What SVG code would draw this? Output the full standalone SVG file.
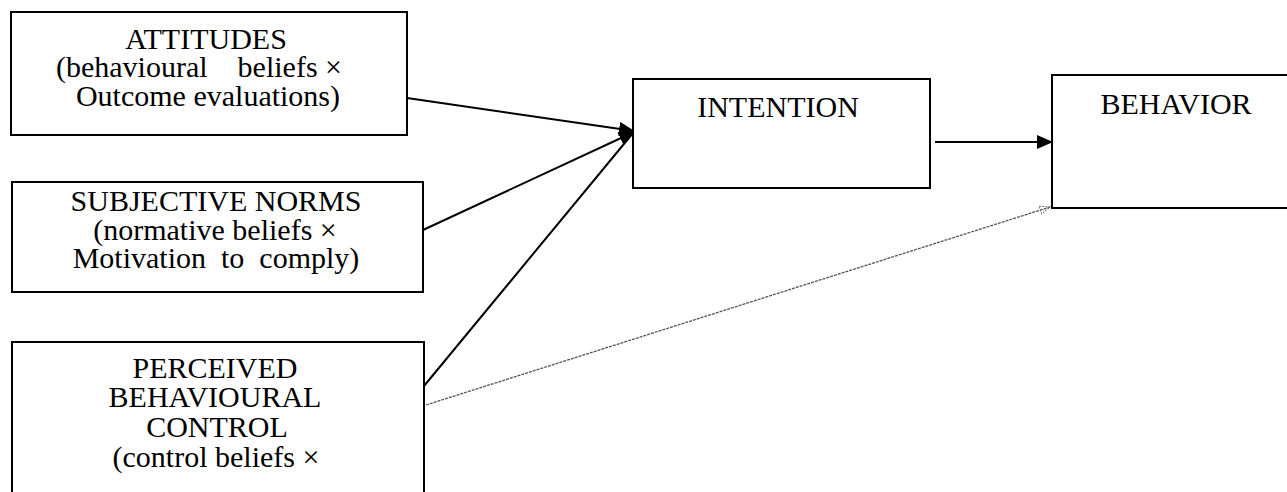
<svg xmlns="http://www.w3.org/2000/svg" width="1287" height="492" viewBox="0 0 1287 492">
  <style>
    .box { fill: #ffffff; stroke: #000000; stroke-width: 2; }
    .lbl { font-family: "Liberation Serif", "Times New Roman", serif; font-size: 30px; fill: #000000; text-anchor: middle; }
    .edge { stroke: #000000; stroke-width: 2; fill: none; }
    .edge-faint { stroke: #555555; stroke-width: 1.3; fill: none; stroke-dasharray: 3 1; }
  </style>
  <defs>
    <marker id="head" markerWidth="16" markerHeight="14" refX="15" refY="7" orient="auto" markerUnits="userSpaceOnUse">
      <path d="M0,0 L16,7 L0,14 Z" fill="#000000"/>
    </marker>
    <marker id="head-open" markerWidth="12" markerHeight="10" refX="11" refY="5" orient="auto" markerUnits="userSpaceOnUse">
      <path d="M1,1 L11,5 L1,9 Z" fill="none" stroke="#777777" stroke-width="1" stroke-dasharray="2 1"/>
    </marker>
  </defs>
  <rect width="1287" height="492" fill="#ffffff"/>

  <!-- connectors -->
  <g id="connectors">
    <line class="edge" x1="407" y1="98" x2="634" y2="131" marker-end="url(#head)"/>
    <line class="edge" x1="423" y1="230" x2="634" y2="132" marker-end="url(#head)"/>
    <line class="edge" x1="424" y1="386" x2="633" y2="133"/>
    <line class="edge" x1="935" y1="142" x2="1052" y2="142" marker-end="url(#head)"/>
    <line class="edge-faint" x1="426" y1="405" x2="1050" y2="207" marker-end="url(#head-open)"/>
  </g>

  <!-- nodes: each label is one text block, one tspan per line -->
  <g id="attitudes">
    <rect class="box" x="11" y="12" width="396" height="123"/>
    <text class="lbl" xml:space="preserve"><tspan x="206" y="49">ATTITUDES</tspan><tspan x="199" y="77">(behavioural    beliefs ×</tspan><tspan x="208" y="106">Outcome evaluations)</tspan></text>
  </g>

  <g id="subjective-norms">
    <rect class="box" x="12" y="182" width="411" height="110"/>
    <text class="lbl" xml:space="preserve"><tspan x="216" y="211">SUBJECTIVE NORMS</tspan><tspan x="215" y="240">(normative beliefs ×</tspan><tspan x="216" y="268">Motivation  to  comply)</tspan></text>
  </g>

  <g id="perceived-control">
    <rect class="box" x="12" y="342" width="412" height="160"/>
    <text class="lbl"><tspan x="215" y="378">PERCEIVED</tspan><tspan x="215" y="407">BEHAVIOURAL</tspan><tspan x="217" y="437">CONTROL</tspan><tspan x="216" y="467">(control beliefs ×</tspan></text>
  </g>

  <g id="intention">
    <rect class="box" x="633" y="79" width="297" height="109"/>
    <text class="lbl" x="778" y="117">INTENTION</text>
  </g>

  <g id="behavior">
    <rect class="box" x="1052" y="75" width="250" height="133"/>
    <text class="lbl" x="1176" y="114">BEHAVIOR</text>
  </g>
</svg>
